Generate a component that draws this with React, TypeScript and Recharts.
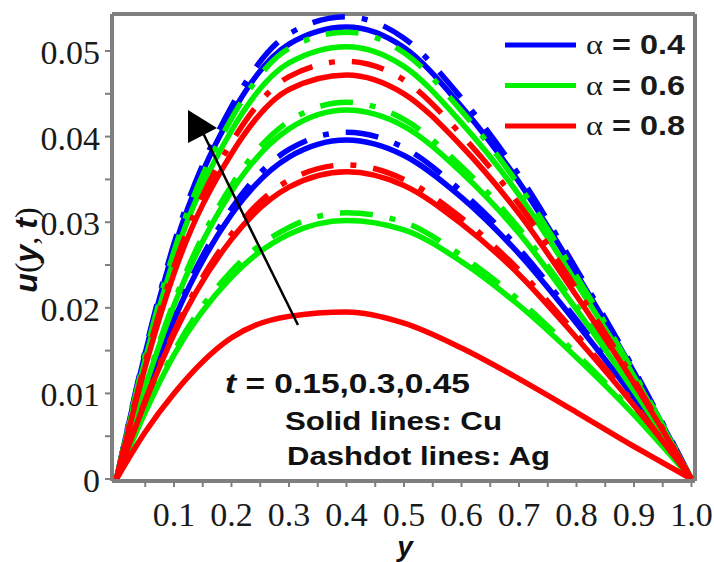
import { LineChart, Line, XAxis, YAxis, ReferenceLine } from "recharts";

// positions along the channel
const Y_POS = [0, 0.05, 0.1, 0.2, 0.3, 0.4, 0.5, 0.6, 0.7, 0.8, 0.9, 0.95, 1];

// t = 0.45
const BLUE_AG_45 = [0, 0.015, 0.0275, 0.0435, 0.052, 0.054, 0.0515, 0.0445, 0.0355, 0.0245, 0.0128, 0.0065, 0];
const BLUE_CU_45 = [0, 0.0147, 0.0269, 0.0426, 0.0508, 0.0528, 0.0504, 0.0435, 0.0347, 0.024, 0.0125, 0.0063, 0];
const GREEN_AG_45 = [0, 0.0145, 0.0266, 0.0421, 0.0503, 0.0522, 0.0498, 0.043, 0.0343, 0.0237, 0.0124, 0.0063, 0];
const GREEN_CU_45 = [0, 0.014, 0.0257, 0.0407, 0.0486, 0.0505, 0.0482, 0.0416, 0.0332, 0.0229, 0.012, 0.0061, 0];
const RED_AG_45 = [0, 0.0136, 0.0248, 0.0393, 0.047, 0.0488, 0.0466, 0.0402, 0.0321, 0.0222, 0.0116, 0.0059, 0];
const RED_CU_45 = [0, 0.0131, 0.024, 0.038, 0.0455, 0.0472, 0.045, 0.0389, 0.031, 0.0214, 0.0112, 0.0057, 0];

// t = 0.3
const GREEN_AG_30 = [0, 0.011, 0.0207, 0.0343, 0.0418, 0.044, 0.042, 0.0365, 0.0293, 0.0202, 0.0106, 0.0054, 0];
const GREEN_CU_30 = [0, 0.0108, 0.0203, 0.0336, 0.0409, 0.0431, 0.0412, 0.0358, 0.0287, 0.0198, 0.0103, 0.0053, 0];
const BLUE_AG_30 = [0, 0.0101, 0.019, 0.0316, 0.0385, 0.0405, 0.0387, 0.0336, 0.0269, 0.0186, 0.0097, 0.0049, 0];
const BLUE_CU_30 = [0, 0.0099, 0.0186, 0.0309, 0.0376, 0.0396, 0.0378, 0.0329, 0.0263, 0.0182, 0.0095, 0.0048, 0];
const RED_AG_30 = [0, 0.0092, 0.0172, 0.0286, 0.0349, 0.0367, 0.035, 0.0305, 0.0244, 0.0169, 0.0088, 0.0045, 0];
const RED_CU_30 = [0, 0.009, 0.0169, 0.028, 0.0341, 0.0359, 0.0343, 0.0298, 0.0239, 0.0165, 0.0086, 0.0044, 0];

// t = 0.15
const GREEN_AG_15 = [0, 0.008, 0.0149, 0.0243, 0.0294, 0.0311, 0.03, 0.0261, 0.0209, 0.0146, 0.0077, 0.0039, 0];
const GREEN_CU_15 = [0, 0.0078, 0.0145, 0.0236, 0.0286, 0.0302, 0.0291, 0.0254, 0.0203, 0.0142, 0.0075, 0.0038, 0];
const RED_CU_15 = [0, 0.0055, 0.01, 0.0165, 0.019, 0.0195, 0.0182, 0.0153, 0.0117, 0.0078, 0.0038, 0.0019, 0];

const X_TICKS = [0.05, 0.1, 0.15, 0.2, 0.25, 0.3, 0.35, 0.4, 0.45, 0.5, 0.55, 0.6, 0.65, 0.7, 0.75, 0.8, 0.85, 0.9, 0.95, 1];
const Y_TICKS = [0, 0.005, 0.01, 0.015, 0.02, 0.025, 0.03, 0.035, 0.04, 0.045, 0.05];
const ALPHAS = ["0.4", "0.6", "0.8"];

const BLUE = "#0000ff";
const GREEN = "#00f000";
const RED = "#ff0000";
const ALPHA_COLORS = [BLUE, GREEN, RED];
const DASHDOT = "33 17 6 17";

const X_DOMAIN = [-0.0078, 1.0061];
const Y_DOMAIN = [-0.00023, 0.05432];
const FRAME = "#7f7f7f";

const SERIES = [
  { key: "blueCu45", color: BLUE, ag: false, values: BLUE_CU_45 },
  { key: "blueCu30", color: BLUE, ag: false, values: BLUE_CU_30 },
  { key: "blueAg45", color: BLUE, ag: true, values: BLUE_AG_45 },
  { key: "blueAg30", color: BLUE, ag: true, values: BLUE_AG_30 },
  { key: "greenCu45", color: GREEN, ag: false, values: GREEN_CU_45 },
  { key: "greenCu30", color: GREEN, ag: false, values: GREEN_CU_30 },
  { key: "greenCu15", color: GREEN, ag: false, values: GREEN_CU_15 },
  { key: "greenAg45", color: GREEN, ag: true, values: GREEN_AG_45 },
  { key: "greenAg30", color: GREEN, ag: true, values: GREEN_AG_30 },
  { key: "greenAg15", color: GREEN, ag: true, values: GREEN_AG_15 },
  { key: "redCu45", color: RED, ag: false, values: RED_CU_45 },
  { key: "redCu30", color: RED, ag: false, values: RED_CU_30 },
  { key: "redCu15", color: RED, ag: false, values: RED_CU_15 },
  { key: "redAg45", color: RED, ag: true, values: RED_AG_45 },
  { key: "redAg30", color: RED, ag: true, values: RED_AG_30 },
];

const data = Y_POS.map((y, i) => {
  const row: Record<string, number> = { y };
  SERIES.forEach((s) => (row[s.key] = s.values[i]));
  return row;
});

const serif = "'Liberation Serif', 'Times New Roman', serif";
const sans = "'Liberation Sans', Arial, sans-serif";

function XTick({ x, y, payload }: any) {
  const v = payload.value;
  if (Math.abs(v * 10 - Math.round(v * 10)) > 1e-6) return <g />;
  return (
    <text x={x} y={y} dy={37} textAnchor="middle" fontFamily={serif} fontSize={34} fill="#1a1a1a">
      {v.toFixed(1)}
    </text>
  );
}

function YTick({ x, y, payload }: any) {
  const v = payload.value;
  if (Math.abs(v * 100 - Math.round(v * 100)) > 1e-6) return <g />;
  return (
    <text x={x} y={y} dx={-3} dy={13} textAnchor="end" fontFamily={serif} fontSize={34} fill="#1a1a1a">
      {v === 0 ? "0" : v.toFixed(2)}
    </text>
  );
}

export default function App() {
  return (
    <div style={{ position: "absolute", left: 0, top: 0, width: 714, height: 562, background: "#fff" }}>
      <LineChart width={714} height={562} data={data} margin={{ top: 14, right: 19, bottom: 41, left: 0 }}>
        <XAxis
          dataKey="y"
          type="number"
          domain={X_DOMAIN}
          allowDataOverflow
          ticks={X_TICKS}
          height={40}
          tickSize={6}
          axisLine={{ stroke: FRAME, strokeWidth: 4 }}
          tickLine={{ stroke: FRAME, strokeWidth: 2 }}
          tick={<XTick />}
          interval={0}
        />
        <YAxis
          type="number"
          domain={Y_DOMAIN}
          allowDataOverflow
          ticks={Y_TICKS}
          width={112}
          tickSize={7}
          axisLine={{ stroke: FRAME, strokeWidth: 4 }}
          tickLine={{ stroke: FRAME, strokeWidth: 2 }}
          tick={<YTick />}
          interval={0}
        />
        <ReferenceLine y={Y_DOMAIN[1]} stroke={FRAME} strokeWidth={4} />
        <ReferenceLine x={X_DOMAIN[1]} stroke={FRAME} strokeWidth={4} />
        {SERIES.map((s) => (
          <Line
            key={s.key}
            type="monotone"
            dataKey={s.key}
            stroke={s.color}
            strokeWidth={5.5}
            strokeDasharray={s.ag ? DASHDOT : undefined}
            dot={false}
            activeDot={false}
            isAnimationActive={false}
          />
        ))}
      </LineChart>
      <svg width={714} height={562} style={{ position: "absolute", left: 0, top: 0, pointerEvents: "none" }}>
        {ALPHAS.map((a, i) => {
          const cy = 45 + i * 40.5;
          return (
            <g key={a}>
              <line x1={505} x2={576} y1={cy} y2={cy} stroke={ALPHA_COLORS[i]} strokeWidth={5} />
              <text x={586} y={cy + 9} fontFamily={sans} fontWeight="bold" fontSize={28} fill="#1a1a1a" textLength={99} lengthAdjust="spacingAndGlyphs">
                <tspan fontFamily={serif} fontWeight="normal">α</tspan> = {a}
              </text>
            </g>
          );
        })}
        <line x1={298} y1={325} x2={203} y2={133} stroke="#000" strokeWidth={2.5} />
        <polygon points="188,110 188,143 217,128" fill="#000" />
        <text x={225} y={393} fontFamily={sans} fontWeight="bold" fontSize={28} fill="#111" textLength={245} lengthAdjust="spacingAndGlyphs">
          <tspan fontStyle="italic">t</tspan> = 0.15,0.3,0.45
        </text>
        <text x={285} y={430} fontFamily={sans} fontWeight="bold" fontSize={26} fill="#111" textLength={217} lengthAdjust="spacingAndGlyphs">
          Solid lines: Cu
        </text>
        <text x={287} y={465} fontFamily={sans} fontWeight="bold" fontSize={26} fill="#111" textLength={263} lengthAdjust="spacingAndGlyphs">
          Dashdot lines: Ag
        </text>
        <text x={405} y={556} textAnchor="middle" fontFamily={sans} fontWeight="bold" fontStyle="italic" fontSize={28} fill="#111">
          y
        </text>
        <text transform="translate(37,250) rotate(-90)" textAnchor="middle" fontFamily={serif} fontSize={32} fill="#111">
          <tspan fontFamily={sans} fontWeight="bold" fontStyle="italic">u</tspan>(
          <tspan fontFamily={sans} fontWeight="bold" fontStyle="italic">y</tspan>,{" "}
          <tspan fontFamily={sans} fontWeight="bold" fontStyle="italic">t</tspan>)
        </text>
      </svg>
    </div>
  );
}
